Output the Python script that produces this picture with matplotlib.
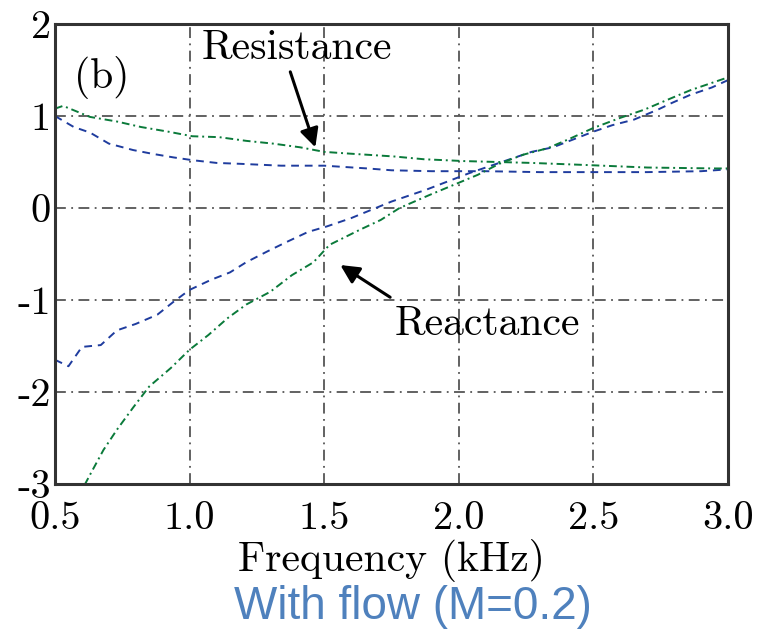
import matplotlib
matplotlib.use('Agg')
import matplotlib.pyplot as plt
import numpy as np

# impedance curves
res_blue_f = [0.50, 0.57, 0.63, 0.70, 0.79, 0.86, 0.94, 1.01, 1.10, 1.19, 1.34, 1.50, 1.66, 1.75,
              1.90, 2.10, 2.30, 2.50, 2.70, 2.90, 3.00]
res_blue = [1.00, 0.88, 0.82, 0.70, 0.63, 0.59, 0.55, 0.52, 0.49, 0.48, 0.46, 0.46, 0.43, 0.41,
            0.40, 0.40, 0.39, 0.39, 0.39, 0.40, 0.42]

res_green_f = [0.50, 0.53, 0.63, 0.73, 0.82, 0.92, 1.01, 1.11, 1.21, 1.31, 1.41, 1.50, 1.60, 1.76,
               1.87, 2.02, 2.27, 2.45, 2.70, 2.95, 3.00]
res_green = [1.08, 1.11, 0.99, 0.94, 0.88, 0.83, 0.78, 0.77, 0.73, 0.70, 0.66, 0.61, 0.59, 0.56,
             0.53, 0.51, 0.49, 0.47, 0.44, 0.43, 0.43]

rea_blue_f = [0.50, 0.55, 0.60, 0.67, 0.73, 0.80, 0.88, 0.94, 1.00, 1.08, 1.15, 1.21, 1.29, 1.36,
              1.44, 1.51, 1.60, 1.75, 1.88, 2.04, 2.18, 2.27, 2.35, 2.50, 2.57, 2.65, 2.74, 2.79,
              2.86, 2.94, 3.00]
rea_blue = [-1.65, -1.72, -1.51, -1.49, -1.33, -1.26, -1.16, -1.02, -0.89, -0.78, -0.70, -0.59,
            -0.47, -0.37, -0.26, -0.20, -0.11, 0.07, 0.20, 0.38, 0.52, 0.61, 0.66, 0.83, 0.90,
            0.96, 1.07, 1.14, 1.23, 1.31, 1.39]

rea_green_f = [0.61, 0.63, 0.68, 0.73, 0.79, 0.85, 0.93, 1.00, 1.07, 1.14, 1.21, 1.30, 1.38, 1.46,
               1.52, 1.63, 1.71, 1.78, 1.89, 1.98, 2.07, 2.15, 2.24, 2.33, 2.41, 2.50, 2.60, 2.69,
               2.77, 2.86, 2.95, 3.00]
rea_green = [-3.01, -2.90, -2.63, -2.41, -2.17, -1.94, -1.74, -1.54, -1.38, -1.20, -1.05, -0.91,
             -0.73, -0.59, -0.40, -0.24, -0.13, 0.00, 0.14, 0.25, 0.36, 0.48, 0.58, 0.65, 0.75,
             0.87, 0.98, 1.07, 1.17, 1.28, 1.37, 1.42]

xticks = [0.5, 1.0, 1.5, 2.0, 2.5, 3.0]
xtick_labels = ['0.5', '1.0', '1.5', '2.0', '2.5', '3.0']
yticks = [-3, -2, -1, 0, 1, 2]
ytick_labels = ['-3', '-2', '-1', '0', '1', '2']

blue = '#1f3c9e'
green = '#0a7a3a'
cm = 'cmr10'

fig = plt.figure(figsize=(7.66, 6.32), dpi=100)
ax = fig.add_axes([55/766, 1-484/632, (728-55)/766, (484-24)/632])

ax.plot(res_blue_f, res_blue, color=blue, lw=1.4, ls=(0, (4, 3)))
ax.plot(rea_blue_f, rea_blue, color=blue, lw=1.4, ls=(0, (4, 3)))
ax.plot(res_green_f, res_green, color=green, lw=1.4, ls=(0, (4, 2, 1, 2)))
ax.plot(rea_green_f, rea_green, color=green, lw=1.4, ls=(0, (4, 2, 1, 2)))

ax.set_xlim(0.5, 3.0)
ax.set_ylim(-3, 2)
ax.set_xticks(xticks)
ax.set_xticklabels(xtick_labels, fontfamily=cm, fontsize=29)
ax.set_yticks(yticks)
ax.set_yticklabels(ytick_labels, fontfamily=cm, fontsize=29)
ax.tick_params(axis='both', length=0)
ax.tick_params(axis='x', pad=12)
ax.tick_params(axis='y', pad=3)

ax.grid(True, color='#555555', lw=1.3, ls=(0, (6, 3, 1, 3)))
for s in ax.spines.values():
    s.set_color('#333333')
    s.set_linewidth(2.2)

ax.set_xlabel('Frequency (kHz)', fontfamily=cm, fontsize=30, labelpad=2)

ax.text(0.675, 1.42, '(b)', fontfamily=cm, fontsize=30, ha='center', va='center')

# labels and their arrows
arrow = dict(arrowstyle='-|>', color='black', lw=2.2, mutation_scale=28,
             shrinkA=0, shrinkB=0)
ax.text(1.40, 1.74, 'Resistance', fontfamily=cm, fontsize=30, ha='center', va='center')
ax.annotate('', xy=(1.467, 0.66), xytext=(1.374, 1.48), arrowprops=arrow)
ax.text(2.106, -1.26, 'Reactance', fontfamily=cm, fontsize=30, ha='center', va='center')
ax.annotate('', xy=(1.56, -0.62), xytext=(1.745, -0.97), arrowprops=arrow)

fig.text(413/766, 1-607/632, 'With flow (M=0.2)', fontfamily='Liberation Sans',
         fontsize=33, color='#4f81bd', ha='center', va='center')

fig.savefig('out.png', dpi=100)
